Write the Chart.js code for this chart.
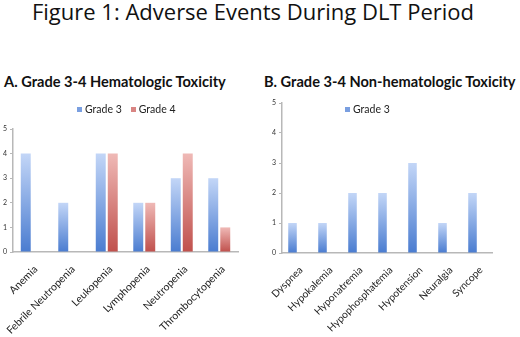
<!DOCTYPE html>
<html>
<head>
<meta charset="utf-8">
<script src="https://cdn.jsdelivr.net/npm/chart.js@4/dist/chart.umd.min.js"></script>
<style>
  html,body{margin:0;padding:0;background:#fff;}
  body{width:520px;height:337px;position:relative;overflow:hidden;font-family:Lato,"Open Sans",sans-serif;color:#111;}
  #fig{position:absolute;left:0;top:-2px;width:506px;text-align:center;font-family:"Open Sans",sans-serif;font-size:22px;line-height:1.2;}
  .ptitle{position:absolute;top:73px;font-weight:bold;font-size:14.6px;line-height:1.2;white-space:nowrap;}
  .box{position:absolute;}
  .leg{position:absolute;top:103px;font-size:10.5px;line-height:1.25;color:#222;white-space:nowrap;}
  .leg span{margin-right:9px;}
  .leg i{display:inline-block;width:5px;height:5px;margin-right:3px;vertical-align:1px;}
</style>
</head>
<body>
<div id="fig">Figure 1: Adverse Events During DLT Period</div>
<div class="ptitle" style="left:4px">A. Grade 3-4 Hematologic Toxicity</div>
<div class="ptitle" style="left:264px">B. Grade 3-4 Non-hematologic Toxicity</div>
<div class="box" style="left:0;top:91px;width:252px;height:246px"><canvas id="cA"></canvas></div>
<div class="box" style="left:262px;top:95px;width:250px;height:242px"><canvas id="cB"></canvas></div>
<div class="leg" id="legA" style="left:77px"></div>
<div class="leg" id="legB" style="left:345px"></div>
<script>
// panel A - hematologic
const hemCats = ['Anemia','Febrile Neutropenia','Leukopenia','Lymphopenia','Neutropenia','Thrombocytopenia'];
const hemG3 = [4,2,4,2,3,3];
const hemG4 = [0,0,4,2,4,1];
// panel B - non-hematologic (grade 4 series present but empty)
const nonCats = ['Dyspnea','Hypokalemia','Hyponatremia','Hypophosphatemia','Hypotension','Neuralgia','Syncope'];
const nonG3 = [1,1,2,2,3,1,2];
const nonG4 = [0,0,0,0,0,0,0];
const yTicks = [0,1,2,3,4,5];

const BLUE = {top:'#c3d6f7', bot:'#4a7cd0', key:'#7a9fe0'};
const RED  = {top:'#efb9b6', bot:'#c0504c', key:'#d98583'};
const AXIS = '#b8b8b8';

// per-bar vertical gradient, light at the top of each bar
function barFill(c){
  return ctx => {
    const ch = ctx.chart, area = ch.chartArea;
    if(!area || ctx.type !== 'data') return c.key;
    const y = ch.scales.y.getPixelForValue(ctx.raw);
    const g = ch.ctx.createLinearGradient(0, y, 0, area.bottom);
    g.addColorStop(0, c.top); g.addColorStop(1, c.bot);
    return g;
  };
}

function opts(pad, yW, xH, cat, bar, xFont){
  return {
    responsive:true, maintainAspectRatio:false, animation:false,
    layout:{padding:pad},
    datasets:{bar:{categoryPercentage:cat, barPercentage:bar}},
    plugins:{legend:{display:false}, tooltip:{enabled:false}},
    scales:{
      x:{grid:{display:false}, border:{display:true, color:AXIS, width:1.5},
         ticks:{color:'#222', font:{family:'Lato', size:xFont}, minRotation:45, maxRotation:45, autoSkip:false, padding:3, labelOffset:4},
         afterFit:s=>{s.height=xH;}},
      y:{min:0, max:5, afterBuildTicks:s=>{s.ticks=yTicks.map(v=>({value:v}));},
         grid:{display:true, drawOnChartArea:false, drawTicks:true, tickLength:3, color:AXIS},
         border:{display:true, color:AXIS, width:1.5},
         ticks:{color:'#333', font:{family:'Lato', size:7}, padding:3},
         afterFit:s=>{s.width=yW;}}
    }
  };
}

const chA = new Chart(document.getElementById('cA'), {
  type:'bar',
  data:{labels:hemCats, datasets:[
    {label:'Grade 3', data:hemG3, backgroundColor:barFill(BLUE)},
    {label:'Grade 4', data:hemG4, backgroundColor:barFill(RED)}
  ]},
  options:opts({top:38,left:0,right:14,bottom:0}, 13, 85, 0.64, 0.83, 10.5)
});

const chB = new Chart(document.getElementById('cB'), {
  type:'bar',
  data:{labels:nonCats, datasets:[
    {label:'Grade 3', data:nonG3, backgroundColor:barFill(BLUE)},
    {label:'Grade 4', data:nonG4, backgroundColor:barFill(RED)}
  ]},
  options:opts({top:8,left:0,right:20,bottom:0}, 20, 84, 0.6, 0.95, 10.2)
});

// legends: panel B only lists the populated series
function legend(id, ch, keep){
  const keys = [BLUE.key, RED.key];
  document.getElementById(id).innerHTML = ch.data.datasets
    .map((d,i)=>keep.includes(i) ? '<span><i style="background:'+keys[i]+'"></i>'+d.label+'</span>' : '')
    .join('');
}
legend('legA', chA, [0,1]);
legend('legB', chB, [0]);
</script>
</body>
</html>
